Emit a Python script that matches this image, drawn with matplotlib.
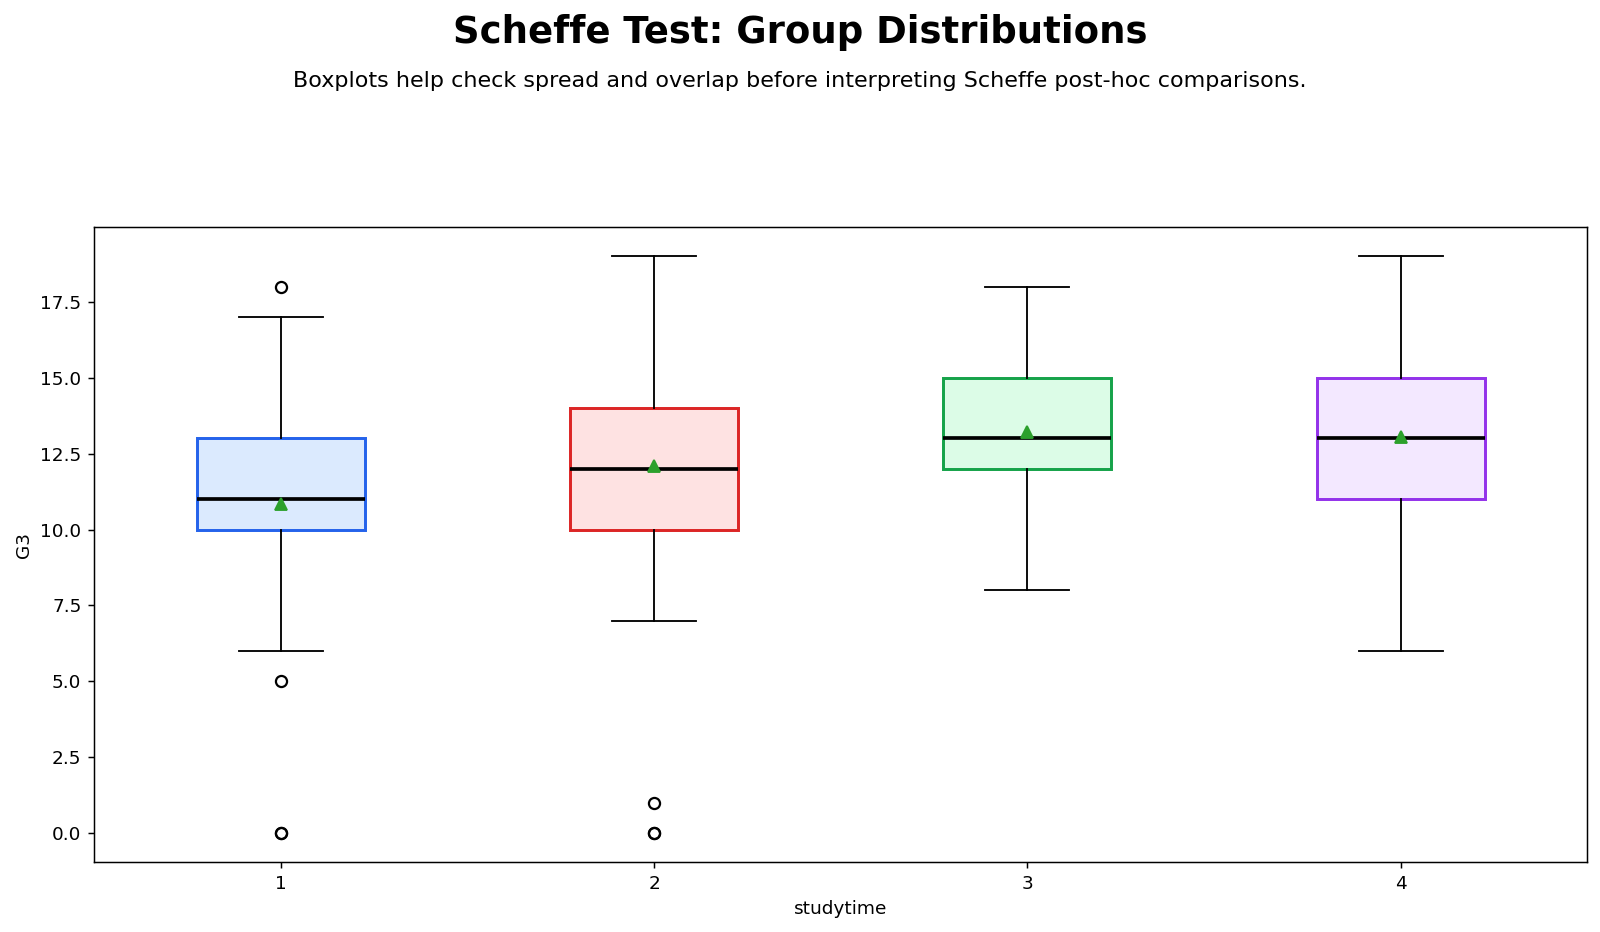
import matplotlib
matplotlib.use('Agg')
import matplotlib.pyplot as plt

# studytime groups and G3 box statistics
groups = ['1', '2', '3', '4']
whislo = [6, 7, 8, 6]
q1 = [10, 10, 12, 11]
med = [11, 12, 13, 13]
q3 = [13, 14, 15, 15]
whishi = [17, 19, 18, 19]
means = [10.85, 12.08, 13.2, 13.05]
fliers = [[18, 5, 0, 0], [1, 0, 0], [], []]

edge_colors = ['#2563eb', '#dc2626', '#16a34a', '#9333ea']
face_colors = ['#dbeafe', '#fee2e2', '#dcfce7', '#f3e8ff']

stats = []
for i, g in enumerate(groups):
    stats.append({
        'label': g,
        'whislo': whislo[i],
        'q1': q1[i],
        'med': med[i],
        'q3': q3[i],
        'whishi': whishi[i],
        'mean': means[i],
        'fliers': fliers[i],
    })

DPI = 1600 / 12
fig = plt.figure(figsize=(12, 932 / DPI), dpi=DPI)
ax = fig.add_axes([0.059, 0.075, 0.933, 0.681])

bp = ax.bxp(stats, widths=0.45, showmeans=True, patch_artist=True,
            medianprops={'color': 'black', 'linewidth': 2},
            flierprops={'markersize': 6, 'markeredgewidth': 1.2})
for box, ec, fc in zip(bp['boxes'], edge_colors, face_colors):
    box.set_facecolor(fc)
    box.set_edgecolor(ec)
    box.set_linewidth(1.6)

ax.set_ylim(-0.95, 19.95)
ax.set_xlabel('studytime')
ax.set_ylabel('G3')

fig.text(0.5, 0.965, 'Scheffe Test: Group Distributions', ha='center', va='center',
         fontsize=20, fontweight='bold')
fig.text(0.5, 0.913, 'Boxplots help check spread and overlap before interpreting Scheffe post-hoc comparisons.',
         ha='center', va='center', fontsize=12.05)

fig.savefig('out.png', dpi=DPI)
plt.close()
